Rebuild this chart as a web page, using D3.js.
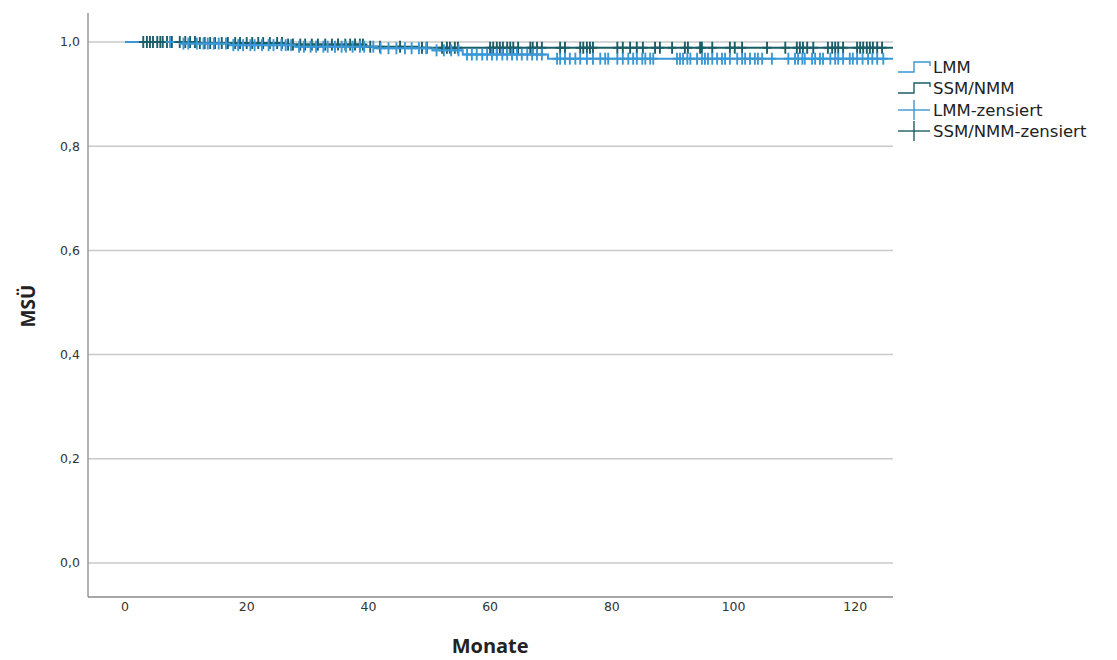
<!DOCTYPE html>
<html>
<head>
<meta charset="utf-8">
<script src="https://cdn.jsdelivr.net/npm/d3@7"></script>
<style>
  html, body { margin: 0; padding: 0; background: #fff; }
  svg { display: block; }
</style>
</head>
<body>
<svg id="chart" width="1117" height="660"></svg>
<script>
// Kaplan-Meier survival steps: [month, survival]
const lmmSteps = [[0, 1.0], [9, 0.997], [17, 0.994], [28, 0.991], [41, 0.988], [50.5, 0.984], [55.5, 0.976], [69.5, 0.968]];
const ssmSteps = [[0, 1.0], [12, 0.998], [26, 0.995], [39.5, 0.991], [48, 0.989]];
const followUpEnd = 126.5;

// Censored observations (months)
const lmmCensored = [7.4, 9.6, 10.4, 11.8, 12.9, 13.6, 14.6, 15.4, 16.6, 17.8, 18.6, 19.4, 20.6, 21.3, 22.5, 23.6, 24.4,
  25.7, 26.4, 27.3, 28.6, 29.4, 30.5, 31.4, 32.6, 33.3, 34.5, 35.6, 36.3, 37.4, 38.6, 39.3, 40.8, 42.0, 43.3, 44.6,
  46.0, 47.1, 48.3, 49.5, 51.2, 52.4, 53.6, 54.8, 56.2, 57.0, 57.8, 58.7, 59.5, 60.3, 61.1, 62.0, 62.8, 63.6, 64.4,
  65.2, 66.1, 66.9, 67.7, 68.5, 71.0, 71.5, 72.3, 73.1, 74.0, 74.8, 75.9, 76.9, 78.1, 78.9, 79.4, 80.9, 81.8, 82.7,
  83.5, 84.1, 85.0, 85.5, 86.3, 86.8, 90.7, 91.2, 91.7, 92.4, 92.9, 94.0, 94.8, 95.3, 95.8, 96.5, 97.3, 98.1, 98.6,
  99.4, 100.6, 101.4, 101.9, 102.7, 103.5, 104.0, 104.7, 106.3, 109.0, 110.1, 110.6, 111.3, 111.7, 112.9, 113.4,
  114.2, 114.7, 115.9, 116.7, 117.2, 118.0, 119.1, 119.6, 120.3, 121.2, 122.1, 122.8, 123.6, 124.6];
const ssmCensored = [3.0, 3.6, 4.1, 4.6, 5.3, 5.8, 6.2, 6.9, 7.7, 9.0, 9.9, 10.7, 11.5, 12.3, 13.1, 14.0, 14.8, 15.9,
  16.9, 18.1, 18.9, 20.0, 20.9, 21.9, 22.7, 23.8, 25.0, 25.8, 26.8, 27.6, 28.8, 29.6, 30.7, 31.7, 32.9, 34.0, 35.0,
  36.2, 37.0, 37.8, 38.6, 39.1, 40.3, 41.9, 45.2, 48.8, 49.6, 52.1, 52.9, 53.4, 54.2, 54.7, 60.0, 60.5, 61.1, 61.6,
  62.1, 62.8, 63.3, 63.8, 64.6, 66.6, 67.0, 67.7, 68.5, 71.5, 72.3, 74.8, 75.3, 75.9, 76.4, 76.9, 80.9, 81.8, 83.0,
  84.1, 85.1, 87.1, 87.9, 89.9, 92.0, 92.5, 94.5, 94.8, 96.5, 99.4, 100.2, 101.4, 105.5, 108.5, 110.4, 110.9, 111.4,
  112.1, 113.1, 115.5, 116.2, 116.7, 117.2, 118.0, 120.3, 120.8, 121.3, 121.9, 122.4, 122.9, 123.6, 124.4];

const xTicks = [0, 20, 40, 60, 80, 100, 120];
const yTicks = [0, 0.2, 0.4, 0.6, 0.8, 1.0];
const legendLabels = ["LMM", "SSM/NMM", "LMM-zensiert", "SSM/NMM-zensiert"];

const colLMM = "#3a98d6";
const colSSM = "#1b5e68";

const svg = d3.select("#chart");
const plot = { left: 88, right: 893, top: 13, bottom: 597 };

const x = d3.scaleLinear().domain([-6.08, 126.2]).range([plot.left, plot.right]);
const y = d3.scaleLinear().domain([0, 1]).range([563, 42]);

const fmt = d3.format(".1f");
const comma = v => fmt(v).replace(".", ",");

// gridlines
svg.append("g").selectAll("line").data(yTicks).join("line")
  .attr("x1", plot.left).attr("x2", plot.right)
  .attr("y1", d => y(d)).attr("y2", d => y(d))
  .attr("stroke", "#c9c9c9").attr("stroke-width", 1.5);

// frame: left and bottom
svg.append("line").attr("x1", plot.left).attr("x2", plot.left)
  .attr("y1", plot.top).attr("y2", plot.bottom).attr("stroke", "#8a8a8a").attr("stroke-width", 1.3);
svg.append("line").attr("x1", plot.left).attr("x2", plot.right)
  .attr("y1", plot.bottom).attr("y2", plot.bottom).attr("stroke", "#8a8a8a").attr("stroke-width", 1.3);

// y tick labels
svg.append("g").selectAll("text").data(yTicks).join("text")
  .attr("x", 80).attr("y", d => y(d)).attr("dy", "0.35em")
  .attr("text-anchor", "end")
  .attr("font-family", "DejaVu Sans, sans-serif").attr("font-size", 12.5).attr("fill", "#333")
  .text(comma);

// x tick labels
svg.append("g").selectAll("text").data(xTicks).join("text")
  .attr("x", d => x(d)).attr("y", 611)
  .attr("text-anchor", "middle")
  .attr("font-family", "DejaVu Sans, sans-serif").attr("font-size", 12.5).attr("fill", "#333")
  .text(d => d);

// axis titles
svg.append("text").attr("transform", "translate(35,306) rotate(-90)")
  .attr("text-anchor", "middle")
  .attr("font-family", "Open Sans, Noto Sans, sans-serif").attr("font-weight", "bold").attr("font-size", 19)
  .attr("fill", "#222").text("MSÜ");
svg.append("text").attr("x", x(60)).attr("y", 653)
  .attr("text-anchor", "middle")
  .attr("font-family", "Open Sans, Noto Sans, sans-serif").attr("font-weight", "bold").attr("font-size", 20)
  .attr("fill", "#222").text("Monate");

// survival value at time t for a step table
function survivalAt(steps, t) {
  let s = steps[0][1];
  for (const [m, v] of steps) { if (m <= t) s = v; else break; }
  return s;
}

svg.append("clipPath").attr("id", "plotClip")
  .append("rect").attr("x", plot.left).attr("y", 0).attr("width", plot.right - plot.left).attr("height", plot.bottom);

const stepLine = d3.line().x(d => x(d[0])).y(d => y(d[1])).curve(d3.curveStepAfter);

const series = [
  { steps: ssmSteps, censored: ssmCensored, color: colSSM },
  { steps: lmmSteps, censored: lmmCensored, color: colLMM }
];

const curves = svg.append("g").attr("clip-path", "url(#plotClip)");

series.forEach(s => {
  const pts = s.steps.concat([[followUpEnd, s.steps[s.steps.length - 1][1]]]);
  curves.append("path").attr("d", stepLine(pts))
    .attr("fill", "none").attr("stroke", s.color).attr("stroke-width", 2);
});

series.forEach(s => {
  const g = curves.append("g").attr("stroke", s.color).attr("stroke-width", 1.9);
  s.censored.forEach(t => {
    const cx = x(t), cy = y(survivalAt(s.steps, t));
    g.append("line").attr("x1", cx).attr("x2", cx).attr("y1", cy - 6).attr("y2", cy + 6);
    g.append("line").attr("x1", cx - 4.5).attr("x2", cx + 4.5).attr("y1", cy).attr("y2", cy);
  });
});

// legend
const legend = svg.append("g").attr("transform", "translate(898,0)");
const legendY = [67, 88, 110, 131];
const legendColors = [colLMM, colSSM, colLMM, colSSM];
legendLabels.forEach((lab, i) => {
  const ly = legendY[i];
  const g = legend.append("g");
  if (i < 2) {
    g.append("path")
      .attr("d", `M0,${ly + 5} H16 V${ly - 5} H32 V${ly - 1}`)
      .attr("fill", "none").attr("stroke", legendColors[i]).attr("stroke-width", 1.4);
  } else {
    g.append("line").attr("x1", 0).attr("x2", 32).attr("y1", ly).attr("y2", ly)
      .attr("stroke", legendColors[i]).attr("stroke-width", 1.4);
    g.append("line").attr("x1", 16).attr("x2", 16).attr("y1", ly - 10).attr("y2", ly + 10)
      .attr("stroke", legendColors[i]).attr("stroke-width", 1.4);
  }
  g.append("text").attr("x", 35).attr("y", ly).attr("dy", "0.36em")
    .attr("font-family", "DejaVu Sans, sans-serif").attr("font-size", 16.5).attr("fill", "#222")
    .text(lab);
});
</script>
</body>
</html>
